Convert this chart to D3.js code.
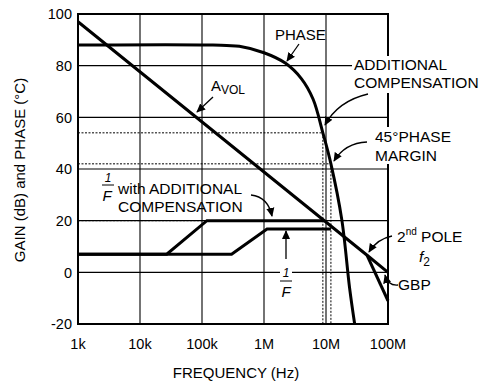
<!DOCTYPE html>
<html>
<head>
<meta charset="utf-8">
<script src="https://cdn.jsdelivr.net/npm/d3@7"></script>
<style>
  body { margin: 0; background: #fff; }
  text { font-family: Arial, "Liberation Sans", sans-serif; fill: #000; }
</style>
</head>
<body>
<div id="chart"></div>
<script>
var freqTicks = [1e3, 1e4, 1e5, 1e6, 1e7, 1e8];
var freqLabels = ["1k", "10k", "100k", "1M", "10M", "100M"];
var gainTicks = [-20, 0, 20, 40, 60, 80, 100];

var avolFreq = [1e3, 46e6, 1e8];
var avolGain = [97, 6.6, 0];
var pole2Freq = [46e6, 1e8];
var pole2Gain = [6.6, -11];

var phaseFreq = [1e3, 150e3, 400e3, 1e6, 2.2e6, 4e6, 6.2e6, 8.9e6, 12e6, 18e6, 24e6, 29e6];
var phaseDeg = [88, 88, 87.5, 85, 81, 75, 67, 54, 42, 20.3, -6, -20];

var compFreq = [1e3, 27e3, 120e3, 9.3e6];
var compGain = [7, 7, 20, 20];
var invFFreq = [1e3, 300e3, 1.12e6, 12e6];
var invFGain = [7, 7, 16.8, 16.8];

// dotted guide lines: [level, frequency where it stops]
var guideLevel = [54, 42, 20];
var guideFreq = [8.9e6, 12e6, 120e3];
var guideDrop = [true, true, false];

var W = 483, H = 385;
var x = d3.scaleLog().domain([1e3, 1e8]).range([78, 388]);
var y = d3.scaleLinear().domain([-20, 100]).range([324, 14]);

var svg = d3.select("#chart").append("svg")
  .attr("width", W)
  .attr("height", H);

svg.append("defs").append("marker")
  .attr("id", "arr")
  .attr("viewBox", "0 -5 10 10")
  .attr("refX", 9)
  .attr("refY", 0)
  .attr("markerWidth", 9)
  .attr("markerHeight", 9)
  .attr("markerUnits", "userSpaceOnUse")
  .attr("orient", "auto")
  .append("path")
  .attr("d", "M0,-4.5L10,0L0,4.5Z")
  .attr("fill", "#000");

// grid
var grid = svg.append("g");
grid.selectAll(".vg").data(freqTicks).enter().append("line")
  .attr("x1", function(d) { return x(d); })
  .attr("x2", function(d) { return x(d); })
  .attr("y1", y(100)).attr("y2", y(-20))
  .attr("stroke", "#000").attr("stroke-width", 1.1);
grid.selectAll(".hg").data(gainTicks).enter().append("line")
  .attr("x1", x(1e3)).attr("x2", x(1e8))
  .attr("y1", function(d) { return y(d); })
  .attr("y2", function(d) { return y(d); })
  .attr("stroke", "#000").attr("stroke-width", 1.1);
svg.append("rect")
  .attr("x", x(1e3)).attr("y", y(100))
  .attr("width", x(1e8) - x(1e3)).attr("height", y(-20) - y(100))
  .attr("fill", "none").attr("stroke", "#000").attr("stroke-width", 2);

// dotted guides
guideLevel.forEach(function(lv, i) {
  svg.append("line")
    .attr("x1", x(1e3)).attr("x2", x(guideFreq[i]))
    .attr("y1", y(lv)).attr("y2", y(lv))
    .attr("stroke", "#000").attr("stroke-width", 1)
    .attr("stroke-dasharray", "2,1.5");
  if (guideDrop[i]) {
    svg.append("line")
      .attr("x1", x(guideFreq[i])).attr("x2", x(guideFreq[i]))
      .attr("y1", y(lv)).attr("y2", y(-20))
      .attr("stroke", "#000").attr("stroke-width", 1)
      .attr("stroke-dasharray", "2,1.5");
  }
});

// curves
function curve(fs, vs, smooth) {
  var pts = fs.map(function(f, i) { return [x(f), y(vs[i])]; });
  var ln = d3.line();
  if (smooth) ln.curve(d3.curveCatmullRom.alpha(0.5));
  svg.append("path")
    .attr("d", ln(pts))
    .attr("fill", "none")
    .attr("stroke", "#000")
    .attr("stroke-width", 3)
    .attr("stroke-linejoin", "miter");
}
curve(compFreq, compGain, false);
curve(invFFreq, invFGain, false);
curve(avolFreq, avolGain, false);
curve(pole2Freq, pole2Gain, false);
curve(phaseFreq, phaseDeg, true);

// axes labels
svg.selectAll(".xl").data(freqTicks).enter().append("text")
  .attr("x", function(d) { return x(d); })
  .attr("y", 349)
  .attr("text-anchor", "middle")
  .style("font-size", "14.5px")
  .text(function(d, i) { return freqLabels[i]; });
svg.selectAll(".yl").data(gainTicks).enter().append("text")
  .attr("x", 72)
  .attr("y", function(d) { return y(d); })
  .attr("dy", "0.36em")
  .attr("text-anchor", "end")
  .style("font-size", "14.5px")
  .text(function(d) { return d; });
svg.append("text")
  .attr("x", 236).attr("y", 378)
  .attr("text-anchor", "middle")
  .style("font-size", "15px")
  .text("FREQUENCY (Hz)");
svg.append("text")
  .attr("transform", "translate(25,170) rotate(-90)")
  .attr("text-anchor", "middle")
  .style("font-size", "15px")
  .text("GAIN (dB) and PHASE (°C)");

// annotations
function label(tx, ty, str, size, anchor, italic) {
  return svg.append("text")
    .attr("x", tx).attr("y", ty)
    .attr("text-anchor", anchor || "start")
    .style("font-size", size + "px")
    .style("font-style", italic ? "italic" : "normal")
    .text(str);
}
function arrow(d) {
  svg.append("path")
    .attr("d", d)
    .attr("fill", "none")
    .attr("stroke", "#000")
    .attr("stroke-width", 1.3)
    .attr("marker-end", "url(#arr)");
}
function blank(bx, by, bw, bh) {
  svg.append("rect").attr("x", bx).attr("y", by)
    .attr("width", bw).attr("height", bh).attr("fill", "#fff");
}

label(275, 40, "PHASE", 15);
arrow("M299,44L287,61");

var av = label(211, 91, "A", 15);
av.append("tspan").attr("dy", 3).style("font-size", "12px").text("VOL");
arrow("M213,97L197,112");

blank(352, 56, 131, 37);
label(354, 70, "ADDITIONAL", 15.5);
label(354, 88, "COMPENSATION", 15.5);
arrow("M368,94Q338,101 325,125");

blank(373, 127, 85, 37);
label(375, 142, "45°PHASE", 15.5);
label(375, 161, "MARGIN", 15.5);
arrow("M367,142Q345,143 334,161");

label(108, 182, "1", 12, "middle", true);
svg.append("line").attr("x1", 102).attr("x2", 114).attr("y1", 185).attr("y2", 185)
  .attr("stroke", "#000").attr("stroke-width", 1);
label(107, 201, "F", 15, "middle", true);
label(118, 194, "with ADDITIONAL", 15.5);
label(118, 212, "COMPENSATION", 15.5);
arrow("M251,195Q268,197 272,216");

arrow("M286,259L286,231");
blank(280, 265, 12, 12);
label(286, 277, "1", 12, "middle", true);
svg.append("line").attr("x1", 280).attr("x2", 292).attr("y1", 281).attr("y2", 281)
  .attr("stroke", "#000").attr("stroke-width", 1);
label(286, 297, "F", 15, "middle", true);

var pl = label(397, 242, "2", 15.5);
pl.append("tspan").attr("dy", -7).style("font-size", "10px").text("nd");
pl.append("tspan").attr("dy", 7).style("font-size", "15.5px").text(" POLE");
var f2 = label(419, 262, "f", 15.5, "start", true);
f2.append("tspan").attr("dy", 4).style("font-size", "12px").style("font-style", "normal").text("2");
arrow("M392,236Q377,239 369,252");

label(398, 290, "GBP", 15.5);
arrow("M398,285Q388,286 385,275");
</script>
</body>
</html>
